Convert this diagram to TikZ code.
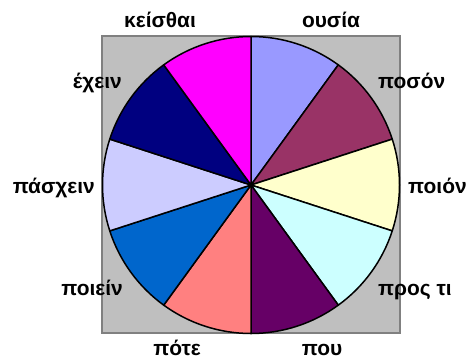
\documentclass[tikz,border=0pt]{standalone}
\usepackage{fontspec}
\setmainfont{Liberation Sans}

\definecolor{ousia}{HTML}{9999FF}
\definecolor{poson}{HTML}{993366}
\definecolor{poion}{HTML}{FFFFCC}
\definecolor{prosti}{HTML}{CCFFFF}
\definecolor{pou}{HTML}{660066}
\definecolor{pote}{HTML}{FF8080}
\definecolor{poiein}{HTML}{0066CC}
\definecolor{paschein}{HTML}{CCCCFF}
\definecolor{echein}{HTML}{000080}
\definecolor{keisthai}{HTML}{FF00FF}

\begin{document}
\begin{tikzpicture}
  [x=1bp,y=1bp,
    every node/.style={font=\bfseries\fontsize{21}{24}\selectfont,inner sep=0pt},
    plotarea/.style={fill=black!25,draw=black!50,line width=1.5bp},
    slice/.style={draw=black,line width=1.5bp,line join=round},
]
  \useasboundingbox (0,0) rectangle (469,358);
  \draw[plotarea] (102,25) rectangle (400,322);
  \coordinate (c) at (251,173);
  \foreach \col [count=\i] in {ousia,poson,poion,prosti,pou,pote,poiein,paschein,echein,keisthai}
    \filldraw[slice,fill=\col] (c) -- ++({126-36*\i}:148.5)
      arc[start angle={126-36*\i},end angle={90-36*\i},radius=148.5] -- cycle;

  \node[anchor=base] (keisthai) at (160,331) {κείσθαι};
  \node[anchor=base] (ousia) at (331,331) {ουσία};
  \node[anchor=base west] (poson) at (378,270) {ποσόν};
  \node[anchor=base west] (poion) at (408,165) {ποιόν};
  \node[anchor=base west] (prosti) at (378,63) {προς τι};
  \node[anchor=base] (pou) at (322,3) {που};
  \node[anchor=base] (pote) at (177,3) {πότε};
  \node[anchor=base east] (poiein) at (123,63) {ποιείν};
  \node[anchor=base east] (paschein) at (95,165) {πάσχειν};
  \node[anchor=base east] (echein) at (122,270) {έχειν};
\end{tikzpicture}
\end{document}
